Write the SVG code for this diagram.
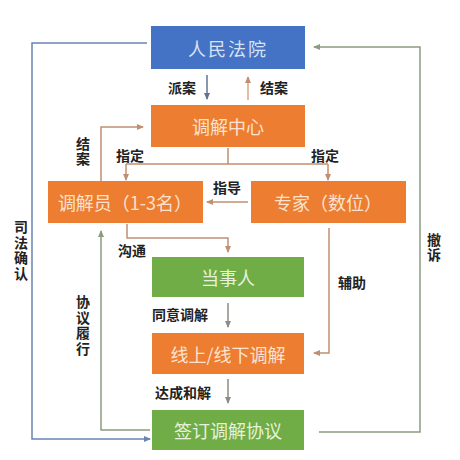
<svg xmlns="http://www.w3.org/2000/svg" width="460" height="460" viewBox="0 0 460 460">
<style>
.bt{font-family:"Noto Sans CJK SC","Noto Sans",sans-serif;font-size:18px;text-anchor:middle;dominant-baseline:central}
.lb{font-family:"Noto Sans CJK SC","Noto Sans",sans-serif;font-size:14px;font-weight:bold;fill:#222;text-anchor:middle;dominant-baseline:central}
.v{writing-mode:vertical-rl;text-orientation:upright;letter-spacing:1.5px}
.c{fill:none;stroke-width:1.5}
</style>
<defs>
<marker id="aB" markerWidth="7" markerHeight="6" refX="6" refY="3" orient="auto" markerUnits="userSpaceOnUse"><path d="M0,0L7,3L0,6z" fill="#5f7596"/></marker>
<marker id="aO" markerWidth="7" markerHeight="6" refX="6" refY="3" orient="auto" markerUnits="userSpaceOnUse"><path d="M0,0L7,3L0,6z" fill="#c08f72"/></marker>
<marker id="aG" markerWidth="7" markerHeight="6" refX="6" refY="3" orient="auto" markerUnits="userSpaceOnUse"><path d="M0,0L7,3L0,6z" fill="#8b9c80"/></marker>
<marker id="aL" markerWidth="7" markerHeight="6" refX="6" refY="3" orient="auto" markerUnits="userSpaceOnUse"><path d="M0,0L7,3L0,6z" fill="#6a84b0"/></marker>
<marker id="aY" markerWidth="7" markerHeight="6" refX="6" refY="3" orient="auto" markerUnits="userSpaceOnUse"><path d="M0,0L7,3L0,6z" fill="#8f8a84"/></marker>
</defs>
<rect width="460" height="460" fill="#fff"/>
<g id="connectors">
<path class="c" d="M207,75V99" stroke="#5f7596" marker-end="url(#aB)"/>
<path class="c" d="M248,100V77" stroke="#d8a684" marker-end="url(#aO)"/>
<path class="c" d="M228,148V164M126,164H328" stroke="#c08f72"/>
<path class="c" d="M126,164V180" stroke="#c08f72" marker-end="url(#aO)"/>
<path class="c" d="M328,164V180" stroke="#c08f72" marker-end="url(#aO)"/>
<path class="c" d="M248,202H207" stroke="#c08f72" marker-end="url(#aO)"/>
<path class="c" d="M101,181V127H143" stroke="#c08f72" marker-end="url(#aO)"/>
<path class="c" d="M127,224V238H228V252" stroke="#c08f72" marker-end="url(#aO)"/>
<path class="c" d="M329,228V353H314" stroke="#c08f72" marker-end="url(#aO)"/>
<path class="c" d="M228,303V327" stroke="#8f8a84" marker-end="url(#aY)"/>
<path class="c" d="M228,379V403" stroke="#8f8a84" marker-end="url(#aY)"/>
<path class="c" d="M147,43H32V439H150" stroke="#6a84b0" marker-end="url(#aL)"/>
<path class="c" d="M150,430H101V231" stroke="#8b9c80" marker-end="url(#aG)"/>
<path class="c" d="M319,432H420V47H314" stroke="#8b9c80" marker-end="url(#aG)"/>
</g>
<g id="court"><rect x="151" y="26" width="154" height="43" fill="#4472c4"/><text class="bt" x="228" y="48" fill="#d6e2f6" font-size="19" letter-spacing="2">人民法院</text></g>
<g id="center"><rect x="151" y="105" width="154" height="42" fill="#ed7d31"/><text class="bt" x="228" y="126" fill="#fbe3cf">调解中心</text></g>
<g id="mediator"><rect x="48" y="181" width="155" height="42" fill="#ed7d31"/><text class="bt" x="125" y="202" fill="#fbe3cf" font-size="17">调解员（1-3名）</text></g>
<g id="expert"><rect x="251" y="181" width="155" height="42" fill="#ed7d31"/><text class="bt" x="328" y="202" fill="#fbe3cf">专家（数位）</text></g>
<g id="party"><rect x="152" y="257" width="152" height="40" fill="#70ad47"/><text class="bt" x="228" y="277" fill="#e6f2dc">当事人</text></g>
<g id="mediation"><rect x="152" y="333" width="152" height="41" fill="#ed7d31"/><text class="bt" x="228" y="353.5" fill="#fbe3cf">线上/线下调解</text></g>
<g id="agreement"><rect x="152" y="410" width="152" height="40" fill="#70ad47"/><text class="bt" x="228" y="430" fill="#e6f2dc">签订调解协议</text></g>
<g id="labels">
<text class="lb" x="182" y="87">派案</text>
<text class="lb" x="274" y="87">结案</text>
<text class="lb" x="130" y="155">指定</text>
<text class="lb" x="325" y="155">指定</text>
<text class="lb" x="227" y="187">指导</text>
<text class="lb" x="132" y="250">沟通</text>
<text class="lb" x="352" y="282">辅助</text>
<text class="lb" x="180" y="314">同意调解</text>
<text class="lb" x="183" y="392">达成和解</text>
<text class="lb v" x="83" y="152">结案</text>
<text class="lb v" x="21" y="251">司法确认</text>
<text class="lb v" x="434" y="248">撤诉</text>
<text class="lb v" x="83" y="326">协议履行</text>
</g>
</svg>
